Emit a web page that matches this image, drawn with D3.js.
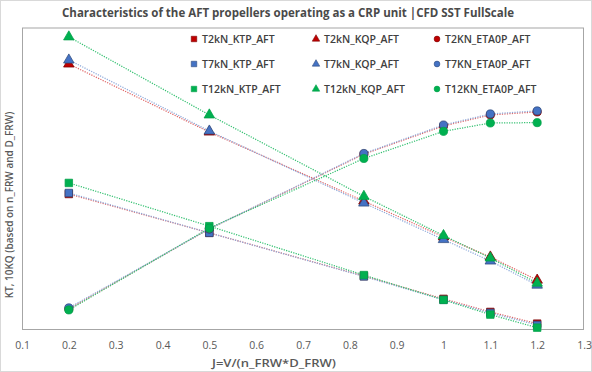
<!DOCTYPE html>
<html>
<head>
<meta charset="utf-8">
<script src="https://cdn.jsdelivr.net/npm/d3@7"></script>
<style>
  html, body { margin: 0; padding: 0; background: #fff; }
  svg { display: block; }
</style>
</head>
<body>
<svg id="chart" width="592" height="372"></svg>
<script>
// ---- data ----
const jValues = [0.2, 0.5, 0.83, 1.0, 1.1, 1.2];

const t2KTP  = [0.403, 0.287, 0.158, 0.090, 0.051, 0.016];
const t7KTP  = [0.406, 0.287, 0.157, 0.087, 0.048, 0.012];
const t12KTP = [0.436, 0.307, 0.161, 0.087, 0.043, 0.004];

const t2KQP  = [0.791, 0.588, 0.382, 0.275, 0.215, 0.146];
const t7KQP  = [0.803, 0.591, 0.376, 0.267, 0.203, 0.131];
const t12KQP = [0.872, 0.639, 0.396, 0.279, 0.212, 0.137];

const t2ETA  = [0.060, 0.299, 0.522, 0.606, 0.639, 0.648];
const t7ETA  = [0.063, 0.299, 0.524, 0.609, 0.642, 0.651];
const t12ETA = [0.057, 0.301, 0.509, 0.590, 0.615, 0.616];

const xTickValues = [0.1, 0.2, 0.3, 0.4, 0.5, 0.6, 0.7, 0.8, 0.9, 1, 1.1, 1.2, 1.3];
const xTickLabels = ["0.1","0.2","0.3","0.4","0.5","0.6","0.7","0.8","0.9","1","1.1","1.2","1.3"];

const seriesNames = [
  "T2kN_KTP_AFT", "T2kN_KQP_AFT", "T2KN_ETA0P_AFT",
  "T7kN_KTP_AFT", "T7kN_KQP_AFT", "T7KN_ETA0P_AFT",
  "T12kN_KTP_AFT", "T12kN_KQP_AFT", "T12KN_ETA0P_AFT"
];
const seriesValues = [t2KTP, t2KQP, t2ETA, t7KTP, t7KQP, t7ETA, t12KTP, t12KQP, t12ETA];

const titleText = "Characteristics of the AFT propellers operating as a CRP unit |CFD SST FullScale";
const xTitle = "J=V/(n_FRW*D_FRW)";
const yTitle = "KT, 10KQ (based on n_FRW and D_FRW)";

// ---- styling ----
const W = 592, H = 372;
const plot = { left: 22, right: 584, top: 27.5, bottom: 329 };
const colors = { T2: "#c00000", T7: "#4472c4", T12: "#00b050" };
const edge   = { T2: "#7a0000", T7: "#2f4b7c", T12: "#00a048" };
const lineCol = { T2: "#e06666", T7: "#8eaadb", T12: "#33c070" };
const shapes = { KTP: d3.symbolSquare, KQP: d3.symbolTriangle, ETA: d3.symbolCircle };
const sizes  = { KTP: 56, KQP: 48, ETA: 52 };
const legendSizes = { KTP: 30, KQP: 24, ETA: 26 };
const fontFam = "'Open Sans', 'Liberation Sans', sans-serif";

const series = seriesNames.map((name, i) => {
  const grp = name.startsWith("T12") ? "T12" : name.startsWith("T7") ? "T7" : "T2";
  const kind = name.includes("KTP") ? "KTP" : name.includes("KQP") ? "KQP" : "ETA";
  return { name, grp, kind, values: seriesValues[i] };
});

const svg = d3.select("#chart");

svg.append("rect").attr("x", 0.5).attr("y", 0.5).attr("width", W - 1).attr("height", H - 1)
  .attr("fill", "#fff").attr("stroke", "#d9d9d9");

const x = d3.scaleLinear().domain([0.1, 1.3]).range([plot.left, plot.right]);
const y = d3.scaleLinear().domain([0, 0.9]).range([plot.bottom, plot.top]);

// plot area border
svg.append("rect")
  .attr("x", plot.left + 0.5).attr("y", plot.top + 0.5)
  .attr("width", plot.right - plot.left - 1).attr("height", plot.bottom - plot.top)
  .attr("fill", "none").attr("stroke", "#a6a6a6").attr("stroke-width", 1);

// x axis labels
const xAxis = d3.axisBottom(x).tickValues(xTickValues).tickSize(0).tickPadding(0)
  .tickFormat((d, i) => xTickLabels[i]);
const gx = svg.append("g").attr("transform", `translate(0, ${plot.bottom + 13})`).call(xAxis);
gx.select(".domain").remove();
gx.selectAll("text").attr("font-family", fontFam)
  .attr("font-size", 10.5).attr("fill", "#595959");

// axis titles
svg.append("text").attr("x", 274).attr("y", 367).attr("text-anchor", "middle")
  .attr("font-family", fontFam).attr("font-size", 11.5).attr("font-weight", 600)
  .attr("textLength", 124).attr("lengthAdjust", "spacingAndGlyphs")
  .attr("fill", "#595959").text(xTitle);

svg.append("text").attr("transform", "translate(13, 205) rotate(-90)").attr("text-anchor", "middle")
  .attr("font-family", fontFam).attr("font-size", 10).attr("font-weight", 600)
  .attr("fill", "#595959").text(yTitle);

// title
svg.append("text").attr("x", 288).attr("y", 17).attr("text-anchor", "middle")
  .attr("font-family", fontFam).attr("font-size", 12)
  .attr("font-weight", 700).attr("fill", "#4a4a4a")
  .attr("textLength", 452).attr("lengthAdjust", "spacingAndGlyphs")
  .text(titleText);

// lines
const line = d3.line().x((d, i) => x(jValues[i])).y(d => y(d));
const drawOrder = ["KTP", "KQP", "ETA"].flatMap(k => ["T2", "T7", "T12"].map(g => series.find(s => s.kind === k && s.grp === g)));

const gLines = svg.append("g");
drawOrder.forEach(s => {
  gLines.append("path").datum(s.values).attr("d", line)
    .attr("fill", "none").attr("stroke", lineCol[s.grp]).attr("stroke-width", 1.25)
    .attr("stroke-dasharray", "1.2,1.3");
});

// markers
const gMarks = svg.append("g");
drawOrder.forEach(s => {
  gMarks.selectAll(null).data(s.values).enter().append("path")
    .attr("transform", (d, i) => `translate(${x(jValues[i])}, ${y(d)})`)
    .attr("d", d3.symbol().type(shapes[s.kind]).size(sizes[s.kind]))
    .attr("fill", colors[s.grp]).attr("stroke", edge[s.grp]).attr("stroke-width", 0.75);
});

// legend
const legCols = [194, 316, 437];
const legRows = [39, 64, 89];
const gLeg = svg.append("g");
series.forEach((s, i) => {
  const cx = legCols[i % 3], cy = legRows[Math.floor(i / 3)];
  gLeg.append("path").attr("transform", `translate(${cx}, ${cy})`)
    .attr("d", d3.symbol().type(shapes[s.kind]).size(legendSizes[s.kind]))
    .attr("fill", colors[s.grp]).attr("stroke", edge[s.grp]).attr("stroke-width", 0.6);
  gLeg.append("text").attr("x", cx + 8).attr("y", cy + 4)
    .attr("font-family", fontFam).attr("font-size", 10.5)
    .attr("font-weight", 600).attr("fill", "#404040").text(s.name);
});
</script>
</body>
</html>
